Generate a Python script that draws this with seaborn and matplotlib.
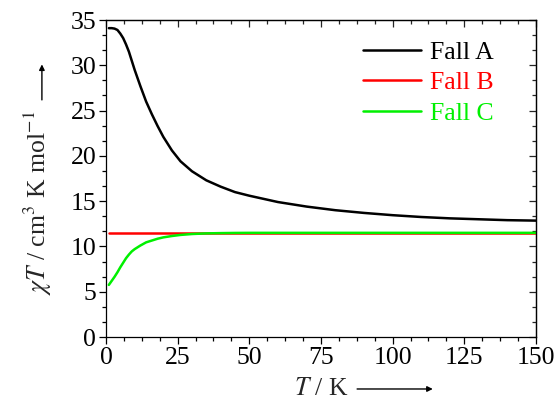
import pandas as pd
import matplotlib.pyplot as plt
import seaborn as sns
from matplotlib.ticker import MultipleLocator

sns.set_theme(style="ticks")
plt.rcParams['font.family'] = ['Liberation Serif', 'DejaVu Serif']
plt.rcParams['mathtext.fontset'] = 'stix'

# temperature grid (K)
temps = [1, 2, 3, 4, 5, 6, 7, 8, 9, 10, 12, 14, 16, 18, 20, 23, 26, 30, 35, 40,
         45, 50, 60, 70, 80, 90, 100, 110, 120, 130, 140, 150]
# chi*T values
fallA = [34.1, 34.1, 34.05, 33.9, 33.5, 33.0, 32.3, 31.5, 30.5, 29.5, 27.7, 26.0,
         24.6, 23.3, 22.1, 20.6, 19.4, 18.3, 17.3, 16.6, 16.0, 15.6, 14.9, 14.4,
         14.0, 13.7, 13.45, 13.25, 13.1, 13.0, 12.9, 12.85]
fallB = [11.5] * len(temps)
fallC = [5.75, 6.2, 6.65, 7.15, 7.7, 8.2, 8.7, 9.1, 9.45, 9.7, 10.1, 10.45,
         10.65, 10.85, 11.0, 11.15, 11.27, 11.37, 11.44, 11.47, 11.49, 11.5, 11.5,
         11.5, 11.5, 11.5, 11.5, 11.5, 11.5, 11.5, 11.5, 11.5]
labels = ["Fall A", "Fall B", "Fall C"]
farben = {"Fall A": "black", "Fall B": "#ff0000", "Fall C": "#00f000"}

df = pd.concat([
    pd.DataFrame({'T': temps, 'chiT': vals, 'fall': lab})
    for lab, vals in zip(labels, [fallA, fallB, fallC])
])

fs = 18.5

fig = plt.figure(figsize=(5.56, 4.01), dpi=100)
ax = fig.add_axes([0.1906, 0.1596, 0.7734, 0.7905])
sns.lineplot(data=df, x='T', y='chiT', hue='fall', palette=farben, hue_order=labels,
             linewidth=1.8, ax=ax, sort=True)

ax.set_xlim(0, 150)
ax.set_ylim(0, 35)
ax.xaxis.set_major_locator(MultipleLocator(25))
ax.xaxis.set_minor_locator(MultipleLocator(6.25))
ax.yaxis.set_major_locator(MultipleLocator(5))
ax.yaxis.set_minor_locator(MultipleLocator(5 / 3))
ax.tick_params(which='major', direction='out', length=5, width=0.9, labelsize=fs,
               color='black', labelcolor='black', pad=2)
ax.tick_params(which='minor', direction='out', length=3, width=0.9, color='black')
for sp in ax.spines.values():
    sp.set_visible(True)
    sp.set_linewidth(0.9)
    sp.set_color('black')

# mirrored ticks on top / right pointing inward
top = ax.secondary_xaxis('top')
top.xaxis.set_major_locator(MultipleLocator(25))
top.xaxis.set_minor_locator(MultipleLocator(6.25))
top.tick_params(which='major', direction='in', length=5, width=0.9, labeltop=False)
top.tick_params(which='minor', direction='in', length=3, width=0.9)
rgt = ax.secondary_yaxis('right')
rgt.yaxis.set_major_locator(MultipleLocator(5))
rgt.yaxis.set_minor_locator(MultipleLocator(5 / 3))
rgt.tick_params(which='major', direction='in', length=5, width=0.9, labelright=False)
rgt.tick_params(which='minor', direction='in', length=3, width=0.9)
for s in (top, rgt):
    for sp in s.spines.values():
        sp.set_linewidth(0.9)

ax.set_xlabel("$T$ / K", fontsize=fs)
ax.xaxis.set_label_coords(0.5, -0.13)
ax.set_ylabel(r"$\chi T$ / cm$^3$ K mol$^{-1}$", fontsize=fs)
ax.yaxis.set_label_coords(-0.12, 0.425)

ax.annotate("", xy=(0.76, -0.164), xytext=(0.584, -0.164), xycoords='axes fraction',
            arrowprops=dict(arrowstyle='-|>', color='black', lw=1.0,
                            mutation_scale=8, shrinkA=0, shrinkB=0), annotation_clip=False)
ax.annotate("", xy=(-0.149, 0.86), xytext=(-0.149, 0.748), xycoords='axes fraction',
            arrowprops=dict(arrowstyle='-|>', color='black', lw=1.0,
                            mutation_scale=8, shrinkA=0, shrinkB=0), annotation_clip=False)

ax.legend(frameon=False, loc='upper left', bbox_to_anchor=(0.598, 0.935),
          fontsize=fs, handlelength=2.25, handletextpad=0.35, labelspacing=0.3,
          borderpad=0, borderaxespad=0, labelcolor='linecolor')

fig.savefig("out.png", dpi=100)
